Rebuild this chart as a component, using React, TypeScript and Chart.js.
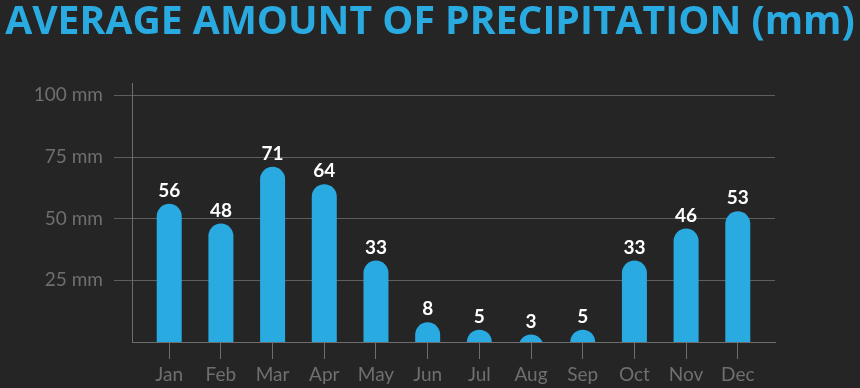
import React, { useEffect, useRef } from "react";
import { Chart, registerables } from "chart.js";

Chart.register(...registerables);

const TITLE = "AVERAGE AMOUNT OF PRECIPITATION (mm)";
const months = ["Jan", "Feb", "Mar", "Apr", "May", "Jun", "Jul", "Aug", "Sep", "Oct", "Nov", "Dec"];
const precipitation = [56, 48, 71, 64, 33, 8, 5, 3, 5, 33, 46, 53];
const yTicks = [25, 50, 75, 100];

const BLUE = "#29abe2";
const BG = "#252525";
const GRID = "#5e5e5e";
const AXIS = "#6e6e6e";
const LABEL = "#6f6f6f";

export default function App() {
  const ref = useRef<HTMLCanvasElement | null>(null);

  useEffect(() => {
    document.body.style.margin = "0";
    document.body.style.background = BG;
    const canvas = ref.current!;

    const titlePlugin = {
      id: "titleDraw",
      beforeDraw(chart: any) {
        const ctx = chart.ctx as CanvasRenderingContext2D;
        ctx.save();
        ctx.fillStyle = BG;
        ctx.fillRect(0, 0, chart.width, chart.height);
        ctx.font = "bold 100px 'Open Sans'";
        const w = ctx.measureText(TITLE).width;
        const size = (100 * 850) / w;
        ctx.font = `bold ${size}px 'Open Sans'`;
        ctx.fillStyle = BLUE;
        ctx.textAlign = "center";
        ctx.textBaseline = "alphabetic";
        ctx.fillText(TITLE, chart.width / 2, 34);
        ctx.restore();
      },
    };

    // rounded-top bars (radius = half width), clipped at the baseline
    const barPlugin = {
      id: "roundBars",
      afterDatasetsDraw(chart: any) {
        const ctx = chart.ctx as CanvasRenderingContext2D;
        const meta = chart.getDatasetMeta(0);
        const area = chart.chartArea;
        ctx.save();
        ctx.beginPath();
        ctx.rect(area.left, area.top, area.right - area.left, area.bottom - area.top);
        ctx.clip();
        ctx.fillStyle = BLUE;
        meta.data.forEach((bar: any) => {
          const r = bar.width / 2;
          const left = bar.x - r;
          const right = bar.x + r;
          const base = bar.base;
          const top = bar.y;
          ctx.beginPath();
          ctx.moveTo(left, base + 1);
          ctx.lineTo(left, top + r);
          ctx.arc(bar.x, top + r, r, Math.PI, 0, false);
          ctx.lineTo(right, base + 1);
          ctx.closePath();
          ctx.fill();
        });
        ctx.restore();

        ctx.save();
        ctx.font = "bold 19px Lato";
        ctx.fillStyle = "#ffffff";
        ctx.textAlign = "center";
        ctx.textBaseline = "alphabetic";
        meta.data.forEach((bar: any, i: number) => {
          ctx.fillText(String(precipitation[i]), bar.x, bar.y - 7);
        });
        ctx.restore();
      },
    };

    const chart = new Chart(canvas, {
      type: "bar",
      data: {
        datasets: [
          {
            data: precipitation.map((v, i) => ({ x: i, y: v })),
            backgroundColor: "rgba(0,0,0,0)",
            barThickness: 25,
            borderSkipped: "bottom",
          },
        ],
      },
      options: {
        animation: false,
        responsive: false,
        maintainAspectRatio: false,
        layout: { padding: { top: 83, right: 85, bottom: 0, left: 0 } },
        plugins: {
          legend: { display: false },
          tooltip: { enabled: false },
          title: { display: false },
        },
        scales: {
          x: {
            type: "linear",
            min: -0.72,
            max: 11.72,
            offset: false,
            afterBuildTicks: (scale: any) => {
              scale.ticks = months.map((_, i) => ({ value: i }));
            },
            afterFit: (scale: any) => {
              scale.height = 46;
            },
            ticks: {
              callback: (v: any) => months[Math.round(Number(v))] ?? "",
              color: LABEL,
              font: { family: "Lato", size: 19 },
              padding: 4,
              maxRotation: 0,
              autoSkip: false,
            },
            grid: {
              offset: false,
              drawOnChartArea: false,
              drawTicks: true,
              tickLength: 17,
              color: AXIS,
              lineWidth: 1,
            },
            border: { display: true, color: AXIS, width: 1 },
          },
          y: {
            type: "linear",
            min: 0,
            max: 105,
            afterBuildTicks: (scale: any) => {
              scale.ticks = yTicks.map((v) => ({ value: v }));
            },
            afterFit: (scale: any) => {
              scale.width = 132;
            },
            ticks: {
              callback: (v: any) => `${v} mm`,
              color: LABEL,
              font: { family: "Lato", size: 19 },
              padding: 11,
            },
            grid: {
              drawTicks: true,
              tickLength: 18,
              color: GRID,
              lineWidth: 1,
            },
            border: { display: true, color: AXIS, width: 1 },
          },
        },
      },
      plugins: [titlePlugin, barPlugin],
    });

    return () => chart.destroy();
  }, []);

  return <canvas ref={ref} width={860} height={388} style={{ display: "block" }} />;
}
